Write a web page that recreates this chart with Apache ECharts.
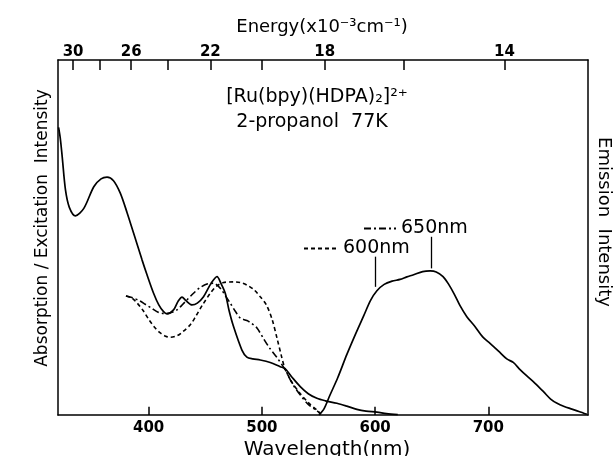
<!DOCTYPE html>
<html>
<head>
<meta charset="utf-8">
<script src="https://cdn.jsdelivr.net/npm/echarts@6/dist/echarts.min.js"></script>
<style>
  html, body { margin: 0; padding: 0; background: #fff; }
  #chart { width: 613px; height: 456px; }
</style>
</head>
<body>
<div id="chart"></div>
<script>
// wavelength range of the plot (nm)
const wlMin = 320, wlMax = 788
const wlTicks = [400, 500, 600, 700]
// top axis, energy in 10^3 cm^-1
const energyTicks = [30, 28, 26, 24, 22, 20, 18, 16, 14]
const energyLabels = [30, 26, 22, 18, 14]

// absorption (solid)
const absX = [320.5, 322, 323.7, 326.6, 330, 335.4, 342.8, 351.6, 358, 363.3, 369, 375, 381, 386.8, 394.2, 398.6, 404.4, 409, 413.2, 416.2, 422, 426, 429.5, 433, 438.3, 443, 448.5, 455, 460.4, 464, 467.7, 471, 475, 482.4, 486.8, 492, 498.6, 507.4, 516.2, 520.7, 527, 533.9, 541, 548.6, 556, 566.3, 575, 583.9, 592, 601.6, 610, 620]
const absY = [81, 78, 72.8, 63.4, 58.5, 56.1, 58.2, 64.3, 66.5, 67, 66, 62.5, 57, 51.2, 43.7, 39.5, 34.3, 31, 29.1, 28.5, 29.6, 32, 33.2, 32.2, 31, 31.5, 33.3, 37, 39, 37, 34.3, 29.5, 24.9, 18.3, 16.3, 15.8, 15.5, 14.8, 13.6, 13, 10.5, 8, 6, 4.7, 4, 3.3, 2.5, 1.6, 1.1, 0.8, 0.4, 0.1]

// excitation, monitored at 600 nm (dashed)
const ex600X = [380, 385, 390, 395, 400, 405, 410, 415, 419.2, 425, 430, 436.8, 442, 448, 454.5, 460, 466.2, 475, 481, 486.8, 493, 498.6, 504, 509, 513.5, 517, 520.5, 527, 534, 541, 548.6, 552]
const ex600Y = [33.5, 33, 31.5, 29.5, 27, 24.8, 23.2, 22.2, 21.9, 22.3, 23.4, 25.4, 28, 31.2, 34.3, 36.3, 37.3, 37.5, 37.3, 36.6, 35.3, 33.3, 31, 27, 21.5, 17, 13, 9, 6, 3.5, 1.4, 0.3]

// excitation, monitored at 650 nm (dash-dot)
const ex650X = [380, 386, 392, 397, 403, 408, 413.2, 418, 425, 432, 439.7, 445, 451.5, 457.4, 463.3, 468, 472.1, 477, 481, 486.8, 491, 495.7, 501.5, 507, 513.3, 520.7, 527, 534, 541, 548.6, 552]
const ex650Y = [33.5, 33, 32.2, 31.2, 30, 29, 28.6, 28.7, 29.6, 31.8, 34.3, 35.8, 36.9, 37.1, 35.7, 33.5, 31.5, 29, 27.3, 26.6, 25.8, 24.5, 21.5, 18.8, 16.2, 12.7, 8.8, 5.6, 3, 1.2, 0.2]

// emission (solid)
const emX = [550.5, 555, 560, 567, 575, 583, 590, 596, 601.6, 608, 615, 622, 628, 634, 642, 648.6, 654, 660, 665, 670, 675, 681, 688, 695, 701.5, 709, 716.3, 722, 728, 734, 741, 748.9, 755, 760.7, 767, 772.4, 780, 787]
const emY = [0, 1.8, 5.5, 10.5, 17, 23, 28, 32.3, 35, 36.8, 37.7, 38.2, 38.9, 39.5, 40.4, 40.6, 40.3, 39, 36.8, 34, 30.8, 27.7, 25, 22, 20.2, 18, 15.8, 14.8, 12.8, 11, 9, 6.5, 4.5, 3.3, 2.4, 1.8, 1, 0.2]

const zip = (xs, ys) => xs.map((x, i) => [x, ys[i]])
const font = 'DejaVu Sans'
const black = '#000'
// bottom ticks: the axis ticks of the bottom axis do not show in this build,
// so they are drawn as short markLine segments (length in y units)
const tickLen = 2.3

const chart = echarts.init(document.getElementById('chart'))
const lineBase = { type: 'line', showSymbol: false, symbol: 'none', smooth: 0.3, silent: true }
const legendText = { fontFamily: font, fontSize: 19, color: black }
const axisLine = { show: true, onZero: false, lineStyle: { color: black, width: 1.5 } }
const plainY = {
  type: 'value', min: 0, max: 100, axisLine,
  axisTick: { show: false }, axisLabel: { show: false }, splitLine: { show: false }
}
const tickLabel = { color: black, fontFamily: font, fontSize: 15, fontWeight: 'bold' }

chart.setOption({
  animation: false,
  backgroundColor: '#fff',
  grid: { left: 58, right: 25, top: 60, bottom: 41, containLabel: false, outerBoundsMode: 'none' },
  legend: [
    { data: ['600nm'], left: 303, top: 239, padding: 0, itemWidth: 34, itemHeight: 14, selectedMode: false,
      itemStyle: { opacity: 0 }, textStyle: legendText },
    { data: ['650nm'], left: 363, top: 219, padding: 0, itemWidth: 32, itemHeight: 14, selectedMode: false,
      itemStyle: { opacity: 0 }, textStyle: legendText }
  ],
  xAxis: [
    {
      type: 'value', min: wlMin, max: wlMax, position: 'bottom', axisLine,
      axisTick: { show: false },
      axisLabel: { ...tickLabel, customValues: wlTicks, margin: 6 },
      splitLine: { show: false }
    },
    {
      type: 'value', min: wlMin, max: wlMax, position: 'top', axisLine,
      axisTick: { show: true, inside: true, length: 10, customValues: energyTicks.map(e => 1e4 / e), lineStyle: { color: black, width: 1.5 } },
      axisLabel: { ...tickLabel, customValues: energyLabels.map(e => 1e4 / e), formatter: v => Math.round(1e4 / v), margin: 0 },
      splitLine: { show: false }
    }
  ],
  yAxis: [
    { ...plainY, position: 'left' },
    { ...plainY, position: 'right' }
  ],
  series: [
    { ...lineBase, name: 'Absorption', data: zip(absX, absY), lineStyle: { color: black, width: 1.7 } },
    { ...lineBase, name: '600nm', data: zip(ex600X, ex600Y), itemStyle: { color: black },
      lineStyle: { color: black, width: 1.6, type: [4, 3] } },
    { ...lineBase, name: '650nm', data: zip(ex650X, ex650Y), itemStyle: { color: black },
      lineStyle: { color: black, width: 1.6, type: [7, 3, 2, 3] } },
    { ...lineBase, name: 'Emission', data: zip(emX, emY), lineStyle: { color: black, width: 1.7 },
      markLine: {
        silent: true, symbol: 'none', label: { show: false },
        lineStyle: { color: black, width: 1.3, type: 'solid' },
        data: [
          [{ coord: [600, 44.6] }, { coord: [600, 36.1] }],
          [{ coord: [650, 50.2] }, { coord: [650, 41.3] }]
        ]
      } },
    { ...lineBase, name: 'wlTicks', smooth: false, data: zip(wlTicks, wlTicks.map(() => 0)),
      lineStyle: { opacity: 0 },
      markLine: {
        silent: true, symbol: 'none', label: { show: false },
        lineStyle: { color: black, width: 1.5, type: 'solid' },
        data: wlTicks.map(w => [{ coord: [w, 0] }, { coord: [w, tickLen] }])
      } }
  ],
  graphic: [
    { type: 'text', x: 322, y: 27, style: { text: 'Energy(x10⁻³cm⁻¹)', font: '18px "' + font + '"', fill: black, align: 'center', verticalAlign: 'middle' } },
    { type: 'text', x: 327, y: 450, style: { text: 'Wavelength(nm)', font: '20px "' + font + '"', fill: black, align: 'center', verticalAlign: 'middle' } },
    { type: 'text', x: 43, y: 228, rotation: Math.PI / 2, style: { text: 'Absorption / Excitation  Intensity', font: '17px "' + font + '"', fill: black, align: 'center', verticalAlign: 'middle' } },
    { type: 'text', x: 604, y: 222, rotation: -Math.PI / 2, style: { text: 'Emission  Intensity', font: '18px "' + font + '"', fill: black, align: 'center', verticalAlign: 'middle' } },
    { type: 'text', x: 317, y: 97, style: { text: '[Ru(bpy)(HDPA)₂]²⁺', font: '19px "' + font + '"', fill: black, align: 'center', verticalAlign: 'middle' } },
    { type: 'text', x: 312, y: 122, style: { text: '2-propanol  77K', font: '19px "' + font + '"', fill: black, align: 'center', verticalAlign: 'middle' } }
  ]
})
</script>
</body>
</html>
